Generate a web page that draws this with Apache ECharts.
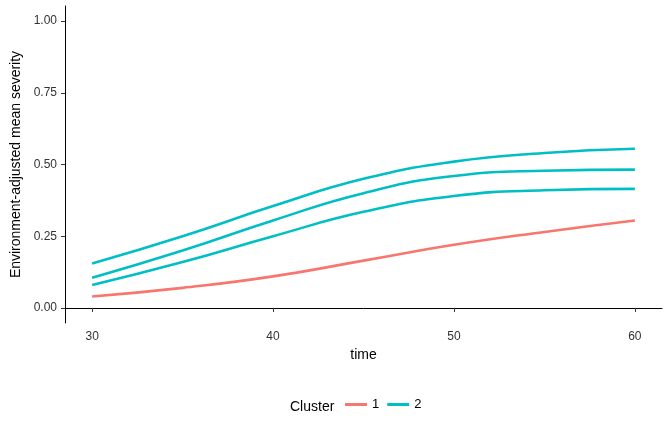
<!DOCTYPE html><html><head><meta charset="utf-8"><script src="https://cdn.jsdelivr.net/npm/echarts@6/dist/echarts.min.js"></script></head><body style="margin:0"><div id="c" style="width:672px;height:432px"></div><script>
const times=[30,35,40,45,50,55,60];
const cluster1=[0.04,0.07,0.11,0.165,0.22,0.265,0.305];
const cluster2a=[0.155,0.25,0.355,0.45,0.51,0.54,0.555];
const cluster2b=[0.105,0.2,0.305,0.4,0.46,0.478,0.482];
const cluster2c=[0.08,0.16,0.25,0.335,0.39,0.41,0.415];
const xTicks=[30,40,50,60];
const yTicks=[0,0.25,0.5,0.75,1];
const pts=a=>times.map((t,i)=>[t,a[i]]);
const mk=(name,a,c)=>({name,type:'line',data:pts(a),smooth:true,showSymbol:false,lineStyle:{width:2.6,color:c},itemStyle:{color:c}});
const lab={color:'#333',fontSize:12,fontFamily:'Liberation Sans'};
const line={show:true,lineStyle:{color:'#000'}};
const tick=v=>({show:true,length:4,lineStyle:{color:'#333'},customValues:v});
echarts.init(document.getElementById('c')).setOption({
animation:false,
grid:{left:65,right:10,top:6,bottom:109},
xAxis:{type:'value',min:28.5,max:61.5,name:'time',nameLocation:'middle',nameGap:24,nameTextStyle:{fontSize:14,color:'#000',fontFamily:'Liberation Sans'},
 axisLine:line,axisTick:tick(xTicks),splitLine:{show:false},axisLabel:Object.assign({},lab,{customValues:xTicks})},
yAxis:{type:'value',min:-0.0525,max:1.0525,name:'Environment-adjusted mean severity',nameLocation:'middle',nameGap:38,nameTextStyle:{fontSize:14,color:'#000',fontFamily:'Liberation Sans'},
 axisLine:line,axisTick:tick(yTicks),splitLine:{show:false},axisLabel:Object.assign({},lab,{customValues:yTicks,formatter:v=>v.toFixed(2)})},
legend:{bottom:16,left:340,itemWidth:22,itemHeight:3,icon:'rect',textStyle:{fontSize:13,color:'#000'},data:['1','2']},
graphic:[{type:'text',left:290,bottom:18,style:{text:'Cluster',fontSize:14,fill:'#000',fontFamily:'Liberation Sans'}}],
series:[mk('1',cluster1,'#F8766D'),mk('2',cluster2a,'#00BFC4'),mk('2',cluster2b,'#00BFC4'),mk('2',cluster2c,'#00BFC4')]
});
</script></body></html>
